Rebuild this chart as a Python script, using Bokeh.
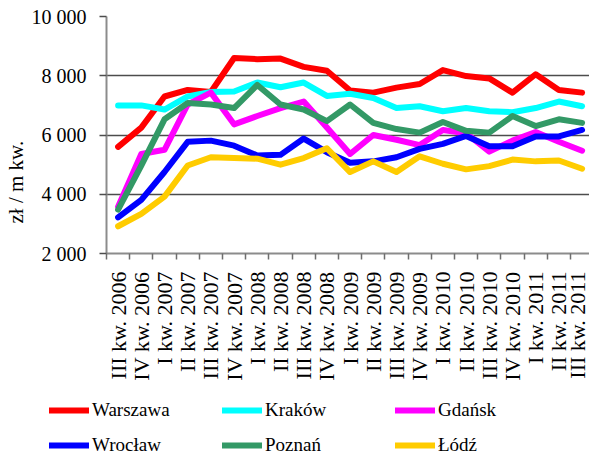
import math
from bokeh.plotting import figure
from bokeh.layouts import column, row
from bokeh.models import Range1d, FixedTicker, Legend, LegendItem, Title
from bokeh.embed import file_html
from bokeh.resources import INLINE

quarters = ["III kw. 2006", "IV kw. 2006", "I kw. 2007", "II kw. 2007", "III kw. 2007",
            "IV kw. 2007", "I kw. 2008", "II kw. 2008", "III kw. 2008", "IV kw. 2008",
            "I kw. 2009", "II kw. 2009", "III kw. 2009", "IV kw. 2009", "I kw. 2010",
            "II kw. 2010", "III kw. 2010", "IV kw. 2010", "I kw. 2011", "II kw. 2011",
            "III kw. 2011"]

warszawa = [5600, 6250, 7300, 7520, 7450, 8600, 8560, 8580, 8300, 8170, 7500,
            7430, 7600, 7720, 8190, 7990, 7910, 7430, 8050, 7520, 7430]
krakow = [7000, 7000, 6860, 7300, 7450, 7470, 7770, 7610, 7770, 7320, 7390,
          7250, 6910, 6970, 6800, 6910, 6800, 6770, 6910, 7130, 6970]
gdansk = [3580, 5360, 5500, 7030, 7430, 6360, 6640, 6910, 7130, 6250, 5360,
          6000, 5840, 5660, 6170, 6060, 5440, 5810, 6100, 5770, 5470]
wroclaw = [3220, 3810, 4750, 5770, 5810, 5640, 5310, 5330, 5880, 5420, 5060,
           5110, 5250, 5530, 5700, 5970, 5620, 5620, 5950, 5950, 6170]
poznan = [3480, 4970, 6530, 7080, 7030, 6910, 7690, 7030, 6860, 6470, 7030,
          6410, 6200, 6080, 6440, 6140, 6080, 6640, 6300, 6530, 6410]
lodz = [2920, 3340, 3920, 4970, 5250, 5220, 5200, 5000, 5220, 5550, 4750,
        5110, 4750, 5280, 5030, 4840, 4950, 5170, 5110, 5140, 4860]

series_names = ["Warszawa", "Kraków", "Gdańsk", "Wrocław", "Poznań", "Łódź"]
series_values = [warszawa, krakow, gdansk, wroclaw, poznan, lodz]
series_colors = ["#FF0000", "#00FFFF", "#FF00FF", "#0000FF", "#339966", "#FFCC00"]

y_ticks = [2000, 4000, 6000, 8000, 10000]
y_tick_labels = ["2 000", "4 000", "6 000", "8 000", "10 000"]
y_title = "zł / m kw."

FONT = "Liberation Serif"
W = 589

x_pos = [i + 0.5 for i in range(len(quarters))]

p = figure(width=W, height=383, x_range=Range1d(0, 20.82), y_range=Range1d(2000, 10000),
           output_backend="svg", toolbar_location=None,
           min_border_left=104, min_border_right=0, min_border_top=16, min_border_bottom=123)
p.outline_line_color = None
p.background_fill_color = "white"
p.border_fill_color = "white"

p.xgrid.visible = False
p.ygrid.ticker = FixedTicker(ticks=y_ticks)
p.ygrid.grid_line_color = "#4d4d4d"
p.ygrid.grid_line_width = 1.6

yax = p.yaxis[0]
yax.ticker = FixedTicker(ticks=y_ticks)
yax.major_label_overrides = {t: lab for t, lab in zip(y_ticks, y_tick_labels)}
yax.axis_line_color = "#8c8c8c"
yax.axis_line_width = 2
yax.major_tick_line_color = "#4d4d4d"
yax.major_tick_line_width = 1.6
yax.major_tick_out = 7
yax.major_tick_in = 0
yax.minor_tick_line_color = None
yax.major_label_standoff = 13
yax.major_label_text_font = FONT
yax.major_label_text_font_size = "20px"
yax.major_label_text_color = "black"

xax = p.xaxis[0]
xax.ticker = FixedTicker(ticks=x_pos, minor_ticks=list(range(len(quarters) + 1)))
xax.major_label_overrides = {x: q for x, q in zip(x_pos, quarters)}
xax.major_label_orientation = math.pi / 2
xax.major_tick_line_color = None
xax.major_tick_out = 0
xax.major_tick_in = 0
xax.minor_tick_line_color = "#6e6e6e"
xax.minor_tick_line_width = 1.5
xax.minor_tick_out = 6
xax.minor_tick_in = 0
xax.axis_line_color = "#8c8c8c"
xax.axis_line_width = 2
xax.major_label_standoff = 12
xax.major_label_text_font = FONT
xax.major_label_text_font_size = "22px"
xax.major_label_text_color = "black"

for name, vals, col in zip(series_names, series_values, series_colors):
    p.line(x_pos, vals, line_color=col, line_width=6,
           line_join="round", line_cap="round")

title = Title(text=y_title, align="left", offset=30, standoff=2,
              text_font=FONT, text_font_size="21px", text_font_style="normal",
              text_color="black")
p.add_layout(title, "left")

# legend strip (the same series, kept outside its visible range; only the legend shows)
lf = figure(width=W, height=74, x_range=Range1d(0, 1), y_range=Range1d(0, 1),
            output_backend="svg", toolbar_location=None,
            x_axis_location=None, y_axis_location=None, min_border=0)
lf.outline_line_color = None
lf.background_fill_color = "white"
lf.border_fill_color = "white"
lf.xgrid.visible = False
lf.ygrid.visible = False
items = []
for name, vals, col in zip(series_names, series_values, series_colors):
    r = lf.line(x_pos, vals, line_color=col, line_width=6,
                line_join="round", line_cap="round")
    items.append(LegendItem(label=name, renderers=[r]))
legend = Legend(items=items, orientation="horizontal", ncols=3,
                location=(49, -3), glyph_width=40, glyph_height=30,
                label_height=30, label_width=125, label_standoff=3, spacing=5,
                padding=0, margin=0, border_line_color=None,
                background_fill_color="white", background_fill_alpha=1.0,
                label_text_font=FONT, label_text_font_size="19px",
                label_text_font_style="normal",
                label_text_color="black")
lf.add_layout(legend)

layout = column(p, row(lf), spacing=0)
open("out.html", "w").write(file_html(layout, INLINE))
